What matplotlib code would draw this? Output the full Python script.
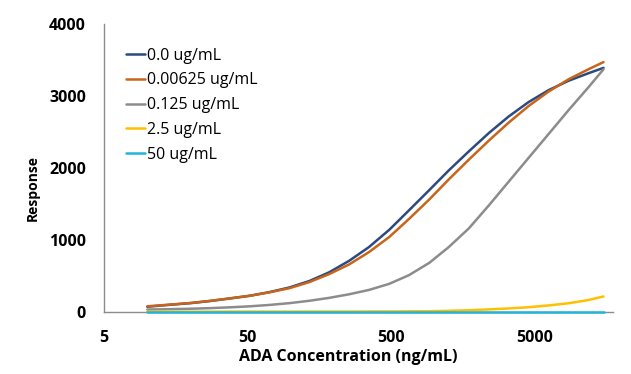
import matplotlib.pyplot as plt

conc = [10, 14, 20, 27, 37, 52, 71, 98, 135, 185, 255, 350, 485, 665,
        920, 1260, 1740, 2400, 3300, 4540, 6250, 8600, 11850, 15100]

resp_0 = [72, 97, 122, 150, 185, 225, 275, 340, 430, 550, 710, 900, 1140, 1410,
          1690, 1965, 2230, 2485, 2715, 2915, 3080, 3210, 3315, 3390]
resp_00625 = [78, 100, 124, 152, 186, 225, 272, 330, 415, 525, 660, 830, 1040, 1290,
              1560, 1840, 2115, 2380, 2630, 2860, 3060, 3230, 3370, 3470]
resp_0125 = [33, 38, 44, 52, 63, 78, 97, 122, 155, 195, 245, 305, 390, 510,
             680, 900, 1160, 1480, 1810, 2140, 2470, 2800, 3120, 3370]
resp_25 = [3, 3, 3, 3, 4, 4, 4, 4, 5, 5, 5, 6, 6, 8,
           10, 15, 24, 35, 48, 65, 90, 120, 165, 215]
resp_50 = [2] * 24

labels = ["0.0 ug/mL", "0.00625 ug/mL", "0.125 ug/mL", "2.5 ug/mL", "50 ug/mL"]
colors = ["#2c4a80", "#c8651b", "#8c8c8c", "#ffc000", "#22b4d6"]
series = [resp_0, resp_00625, resp_0125, resp_25, resp_50]

plt.rcParams['font.family'] = ['Open Sans', 'DejaVu Sans']

fig = plt.figure(figsize=(6.31, 3.74), dpi=100)
ax = fig.add_axes([0.165, 0.166, 0.806, 0.770])

for y, lab, c in zip(series, labels, colors):
    ax.plot(conc, y, color=c, lw=1.8, label=lab, solid_capstyle='round',
            zorder=3, clip_on=False)

ax.set_xscale('log')
ax.set_xlim(5, 17500)
ax.set_ylim(0, 4000)
ax.set_xticks([5, 50, 500, 5000])
ax.set_xticklabels(['5', '50', '500', '5000'])
ax.minorticks_off()
ax.set_yticks([0, 1000, 2000, 3000, 4000])
ax.tick_params(axis='both', length=0, labelsize=11.5)
ax.tick_params(axis='x', pad=13)
ax.tick_params(axis='y', pad=13)
for t in ax.get_xticklabels() + ax.get_yticklabels():
    t.set_fontweight('bold')

for s in ['top', 'right']:
    ax.spines[s].set_visible(False)
for s in ['left', 'bottom']:
    ax.spines[s].set_color('#8c8c8c')
    ax.spines[s].set_linewidth(1.0)

ax.set_xlabel('ADA Concentration (ng/mL)', fontsize=11.5, fontweight='bold')
ax.xaxis.set_label_coords(0.481, -0.128)
ax.set_ylabel('Response', fontsize=10, fontweight='bold')
ax.yaxis.set_label_coords(-0.126, 0.43)

ax.legend(loc='upper left', bbox_to_anchor=(0.031, 0.94), frameon=False, fontsize=11.5,
          handlelength=1.2, handletextpad=0.1, labelspacing=0.55, borderaxespad=0)

fig.savefig('out.png', dpi=100)
